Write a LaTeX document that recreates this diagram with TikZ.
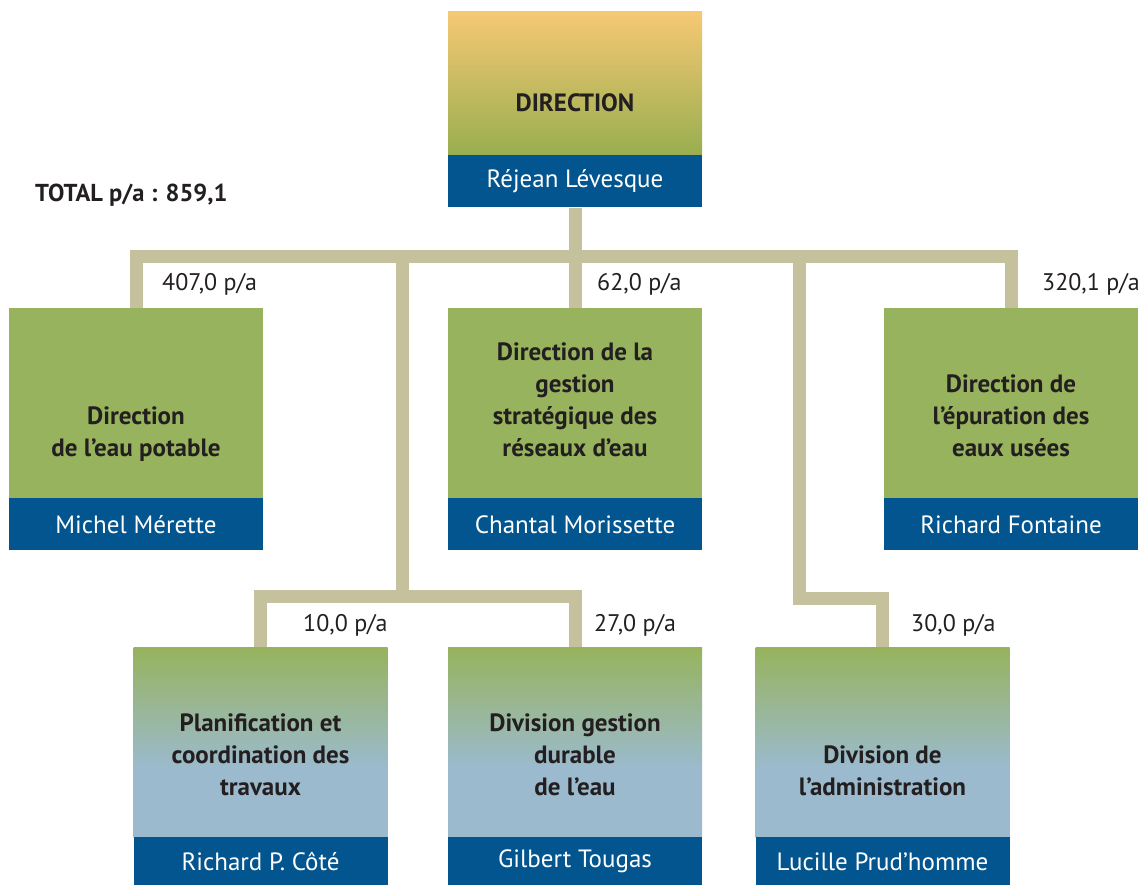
\documentclass[tikz,border=0pt]{standalone}
\usepackage{fontspec}
\setmainfont{PT Sans}

\definecolor{sand}{HTML}{F6C874}
\definecolor{olive}{HTML}{98AE4F}
\definecolor{leafgreen}{HTML}{97B35D}
\definecolor{bluegrey}{HTML}{9BBACE}
\definecolor{navy}{HTML}{02558E}
\definecolor{tan}{HTML}{C4C19C}
\definecolor{inkgrey}{HTML}{231F20}

\pgfdeclareverticalshading{greenblue}{100bp}{color(0bp)=(bluegrey); color(25bp)=(bluegrey); color(43bp)=(bluegrey); color(75bp)=(leafgreen); color(100bp)=(leafgreen)}

\tikzset{
  unit/.style={rectangle, inner xsep=2pt, inner ysep=42pt, text height=106pt, text depth=0pt,
    minimum width=254pt, text=inkgrey, font=\fontsize{25}{32}\selectfont\bfseries,
    execute at begin node={\begin{minipage}[b]{250pt}\centering},
    execute at end node={\end{minipage}}},
  greenunit/.style={unit, fill=leafgreen},
  lowunit/.style={unit, shading=greenblue},
  namebar/.style={rectangle, inner sep=0pt, minimum width=254pt, minimum height=52pt,
    fill=navy, text=white, font=\fontsize{25}{28}\selectfont},
  lowbar/.style={namebar, minimum height=48pt},
  link/.style={draw=tan, line width=13pt},
  quota/.style={anchor=base west, inner sep=0pt, text=inkgrey, font=\fontsize{24}{28}\selectfont},
}

\begin{document}
\begin{tikzpicture}[x=1pt, y=-1pt]

\useasboundingbox (0,0) rectangle (1138,885);

% -------- Direction -----------
\node[unit, inner ysep=43pt, text height=57pt, top color=sand, bottom color=olive] (dir) at (575,83.5) {DIRECTION};
\node[namebar, anchor=north] (dirname) at (dir.south) {Réjean Lévesque};

\node[quota, font=\fontsize{24.5}{28}\selectfont\bfseries] (total) at (35,202) {TOTAL p/a : 859,1};

% -------- Directions -----------
\node[greenunit] (eau) at (136,403) {Direction\\de l’eau potable};
\node[namebar, anchor=north] (eauname) at (eau.south) {Michel Mérette};

\node[greenunit] (reseaux) at (575,403) {Direction de la\\gestion\\stratégique des\\réseaux d’eau};
\node[namebar, anchor=north] (reseauxname) at (reseaux.south) {Chantal Morissette};

\node[greenunit] (epur) at (1011,403) {Direction de\\l’épuration des\\eaux usées};
\node[namebar, anchor=north] (epurname) at (epur.south) {Richard Fontaine};

% -------- Divisions -----------
\node[lowunit] (plan) at (260.5,742) {Planification et\\coordination des\\travaux};
\node[lowbar, anchor=north] (planname) at (plan.south) {Richard P. Côté};

\node[lowunit] (durable) at (575,742) {Division gestion\\durable\\de l’eau};
\node[lowbar, anchor=north] (durablename) at (durable.south) {Gilbert Tougas};

\node[lowunit] (admin) at (882.5,742) {Division de\\l’administration};
\node[lowbar, anchor=north] (adminname) at (admin.south) {Lucille Prud'homme};

% -------- Links -----------
\coordinate (trunk) at (575,257);
\coordinate (splitL) at (402,257);
\coordinate (lowL) at (402,596);
\coordinate (splitR) at (799,257);
\coordinate (bendR) at (799,598);

\draw[link] (eau.north) |- (trunk) -| (epur.north);
\draw[link] (dirname.south) -- (reseaux.north);
\draw[link] (splitL) -- (lowL);
\draw[link] (plan.north) |- (lowL) -| (durable.north);
\draw[link] (splitR) -- (bendR) -| (admin.north);

% -------- Fill numbers -----------
\node[quota] (q1) at (162,291) {407,0 p/a};
\node[quota] (q2) at (597,291) {62,0 p/a};
\node[quota] (q3) at (1042,291) {320,1 p/a};
\node[quota] (q4) at (303,631) {10,0 p/a};
\node[quota] (q5) at (594,631) {27,0 p/a};
\node[quota] (q6) at (911,631) {30,0 p/a};

\end{tikzpicture}
\end{document}
